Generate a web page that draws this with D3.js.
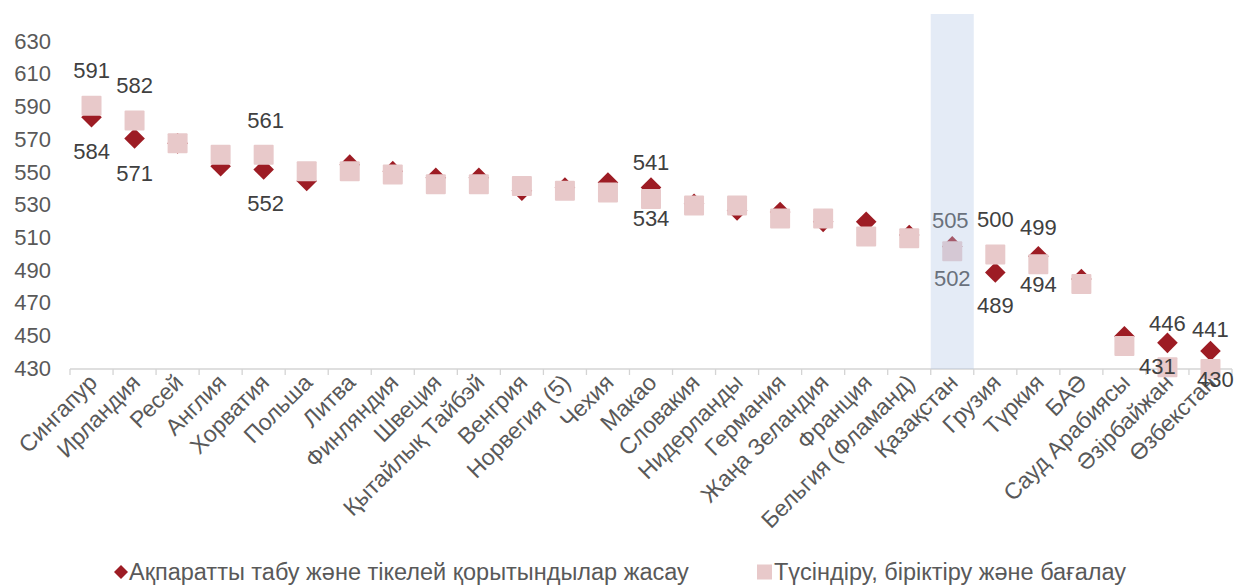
<!DOCTYPE html>
<html><head><meta charset="utf-8">
<script src="https://cdn.jsdelivr.net/npm/d3@7"></script>
<style>body{margin:0;background:#fff}svg{display:block;font-family:"Liberation Sans",Arial,sans-serif}</style>
</head><body><svg id="c" width="1235" height="587"></svg>
<script>
const categories = ["Сингапур","Ирландия","Ресей","Англия","Хорватия","Польша","Литва","Финляндия","Швеция","Қытайлық Тайбэй","Венгрия","Норвегия (5)","Чехия","Макао","Словакия","Нидерланды","Германия","Жаңа Зеландия","Франция","Бельгия (Фламанд)","Қазақстан","Грузия","Түркия","БАӘ","Сауд Арабиясы","Әзірбайжан","Өзбекстан"];
const retrieveValues = [584,571,568,554,552,545,555,551,547,547,539,541,544,541,531,527,526,520,520,512,505,489,499,485,450,446,441];
const interpretValues = [591,582,568,561,561,551,551,549,543,543,542,539,538,534,530,530,522,522,511,510,502,500,494,482,444,431,430];
const yTicks = [430,450,470,490,510,530,550,570,590,610,630];
const seriesNames = ["Ақпаратты табу және тікелей қорытындылар жасау","Түсіндіру, біріктіру және бағалау"];
const highlight = "Қазақстан";
// labelled points: category, series (0 = diamond, 1 = square), label offset
const labelled = [
  ["Сингапур",1,0,-35],["Сингапур",0,0,34],
  ["Ирландия",1,0,-35],["Ирландия",0,0,35],
  ["Хорватия",1,2,-35],["Хорватия",0,2,34],
  ["Макао",0,0,-25],["Макао",1,0,19],
  ["Қазақстан",0,-2,-26],["Қазақстан",1,0,27],
  ["Грузия",1,0,-35],["Грузия",0,0,33],
  ["Түркия",0,0,-29],["Түркия",1,0,20],
  ["Әзірбайжан",0,0,-20],["Әзірбайжан",1,-10,-1],
  ["Өзбекстан",0,0,-22],["Өзбекстан",1,5,10]
];

const svg = d3.select("#c");
const x = d3.scaleBand().domain(categories).range([70,1232]);
const y = d3.scaleLinear().domain([430,630]).range([369,42]);
const series = [retrieveValues, interpretValues];
const dark = "#9d1c24", pink = "#e8c9ca";

// axis line with ticks
const ax = svg.append("g");
ax.append("line").attr("x1",x.range()[0]).attr("x2",x.range()[1]).attr("y1",y(430)).attr("y2",y(430)).attr("stroke","#d4d4d4").attr("stroke-width",1.3);
const bounds = categories.map(c=>x(c)).concat([x.range()[1]]);
ax.selectAll("line.t").data(bounds).join("line").attr("class","t")
  .attr("x1",d=>d).attr("x2",d=>d).attr("y1",y(430)).attr("y2",y(430)+6).attr("stroke","#d4d4d4").attr("stroke-width",1.3);

// y labels
svg.append("g").selectAll("text").data(yTicks).join("text")
  .attr("x",51).attr("y",d=>y(d)-1).attr("dy","0.35em").attr("text-anchor","end")
  .attr("font-size",22).attr("fill","#595959").text(d=>d);

// x labels
svg.append("g").selectAll("text").data(categories).join("text")
  .attr("transform",d=>`translate(${x(d)+x.bandwidth()/2+7},${y(430)+15}) rotate(-45)`)
  .attr("text-anchor","end").attr("font-size",23).attr("fill","#595959").text(d=>d);

const cx = c => x(c)+x.bandwidth()/2;
const diamond = (s)=>`M0,${-s}L${s},0L0,${s}L${-s},0Z`;

// diamonds
svg.append("g").selectAll("path").data(categories).join("path")
  .attr("transform",(c,i)=>`translate(${cx(c)},${y(retrieveValues[i])})`)
  .attr("d",diamond(10.3)).attr("fill",dark);
// squares
svg.append("g").selectAll("rect").data(categories).join("rect")
  .attr("x",c=>cx(c)-10).attr("y",(c,i)=>y(interpretValues[i])-10)
  .attr("width",20).attr("height",20).attr("rx",1).attr("fill",pink);

// data labels
svg.append("g").selectAll("text").data(labelled).join("text")
  .attr("x",d=>cx(d[0])+d[2])
  .attr("y",d=>y(series[d[1]][categories.indexOf(d[0])])+d[3])
  .attr("dy","0.35em").attr("text-anchor","middle").attr("font-size",22).attr("fill","#404040")
  .text(d=>series[d[1]][categories.indexOf(d[0])]);

// highlight band
svg.append("rect").attr("x",x(highlight)).attr("width",x.bandwidth())
  .attr("y",14).attr("height",y(430)-14).attr("fill","#b4c7e7").attr("opacity",0.36);

// legend
const ly = 572;
const lg = svg.append("g").attr("font-size",23.5).attr("fill","#595959");
lg.append("path").attr("transform",`translate(121,${ly})`).attr("d",diamond(7)).attr("fill",dark);
lg.append("text").attr("x",129).attr("y",ly).attr("dy","0.35em").text(seriesNames[0]);
lg.append("rect").attr("x",757).attr("y",ly-7.5).attr("width",15).attr("height",15).attr("fill",pink);
lg.append("text").attr("x",774).attr("y",ly).attr("dy","0.35em").text(seriesNames[1]);
</script></body></html>
